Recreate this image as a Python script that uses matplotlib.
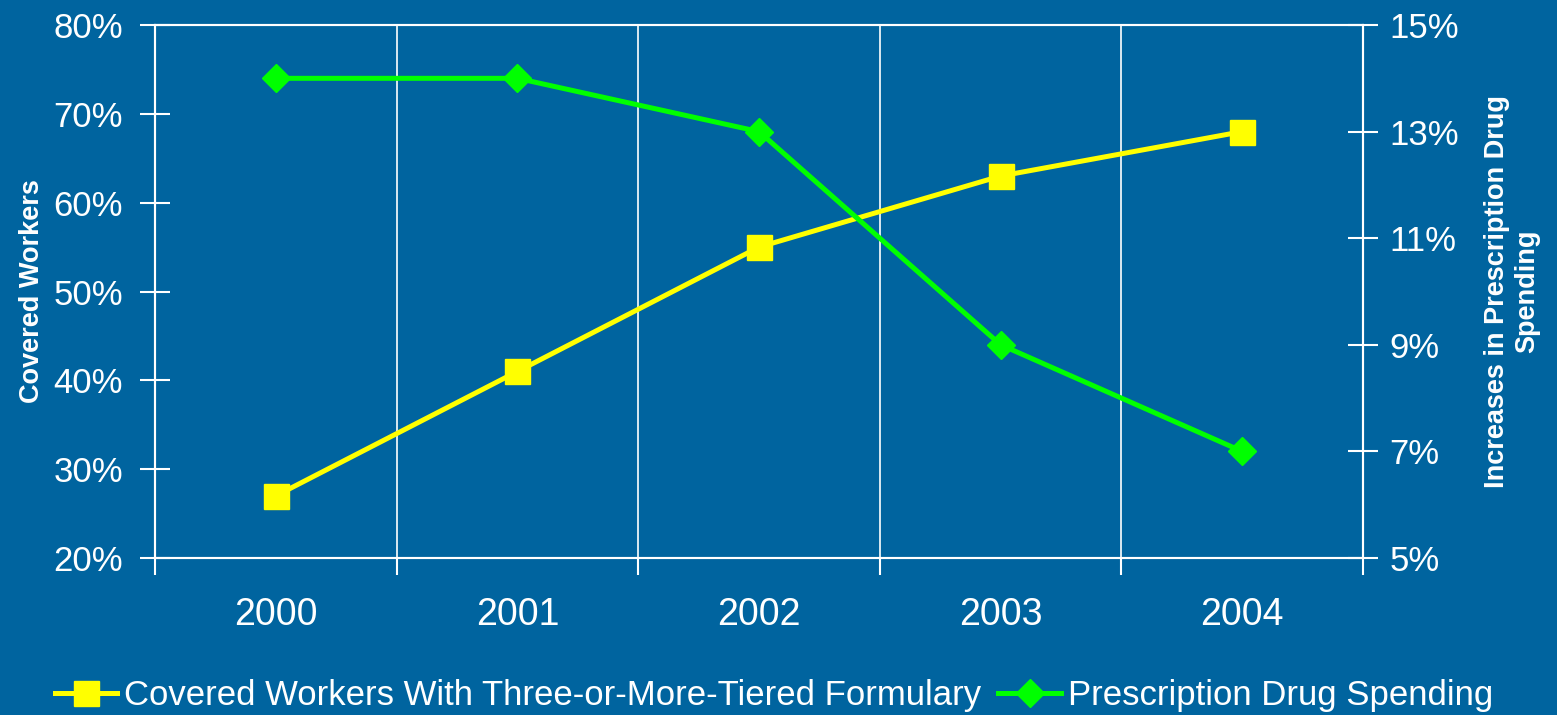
import matplotlib
matplotlib.use('Agg')
import matplotlib.pyplot as plt
from matplotlib.ticker import FixedLocator, FuncFormatter

years = ['2000', '2001', '2002', '2003', '2004']
tiered = [27, 41, 55, 63, 68]        # % covered workers, left axis
drug_spend = [14, 14, 13, 9, 7]      # % increase, right axis

bg = '#00649F'
plt.rcParams['font.family'] = ['Liberation Sans', 'DejaVu Sans']

fig = plt.figure(figsize=(15.57, 7.15), dpi=100, facecolor=bg)
ax = fig.add_axes([0.0996, 0.2196, 0.7758, 0.7454])
ax.set_facecolor(bg)
ax2 = ax.twinx()

x = range(len(years))
l1, = ax.plot(x, tiered, color='#FFFF00', lw=3.6, marker='s', ms=18,
              label='Covered Workers With Three-or-More-Tiered Formulary', zorder=3)
l2, = ax2.plot(x, drug_spend, color='#00FF00', lw=3.6, marker='D', ms=14,
               label='Prescription Drug Spending', zorder=3)

ax.set_xlim(-0.5, 4.5)
ax.set_ylim(20, 80)
ax2.set_ylim(5, 15)
ax.set_yticks(range(20, 81, 10))
ax2.set_yticks(range(5, 16, 2))
ax.yaxis.set_major_formatter(FuncFormatter(lambda v, p: f'{v:.0f}%'))
ax2.yaxis.set_major_formatter(FuncFormatter(lambda v, p: f'{v:.0f}%'))

ax.set_xticks(list(x))
ax.set_xticklabels(years)
ax.xaxis.set_minor_locator(FixedLocator([-0.5, 0.5, 1.5, 2.5, 3.5, 4.5]))
ax.tick_params(axis='x', which='major', length=0, pad=28, labelsize=27, labelcolor='white')
ax.tick_params(axis='x', which='minor', length=12, width=1.5, color='white', direction='out')
ax.tick_params(axis='y', length=22, width=1.5, color='white', direction='inout',
               labelsize=25, labelcolor='white', pad=12)
ax2.tick_params(axis='y', length=22, width=1.5, color='white', direction='inout',
                labelsize=25, labelcolor='white', pad=8)

for g in [0.5, 1.5, 2.5, 3.5]:
    ax.axvline(g, color='white', lw=1.2, zorder=1)

for a in (ax, ax2):
    for s in a.spines.values():
        s.set_color('white')
        s.set_linewidth(1.5)

ax.set_ylabel('Covered Workers', color='white', fontsize=19.5, fontweight='bold', labelpad=6)
ax2.set_ylabel('Increases in Prescription Drug\nSpending', color='white', fontsize=19.5,
               fontweight='bold', labelpad=18, rotation=90)

leg = fig.legend(handles=[l1, l2], loc='lower center', bbox_to_anchor=(0.497, -0.04),
                 ncol=2, frameon=False, handlelength=1.8,
                 handletextpad=0.2, columnspacing=0.5,
                 prop={'size': 25})
for t in leg.get_texts():
    t.set_color('white')

fig.savefig('out.png', dpi=100, facecolor=bg)
